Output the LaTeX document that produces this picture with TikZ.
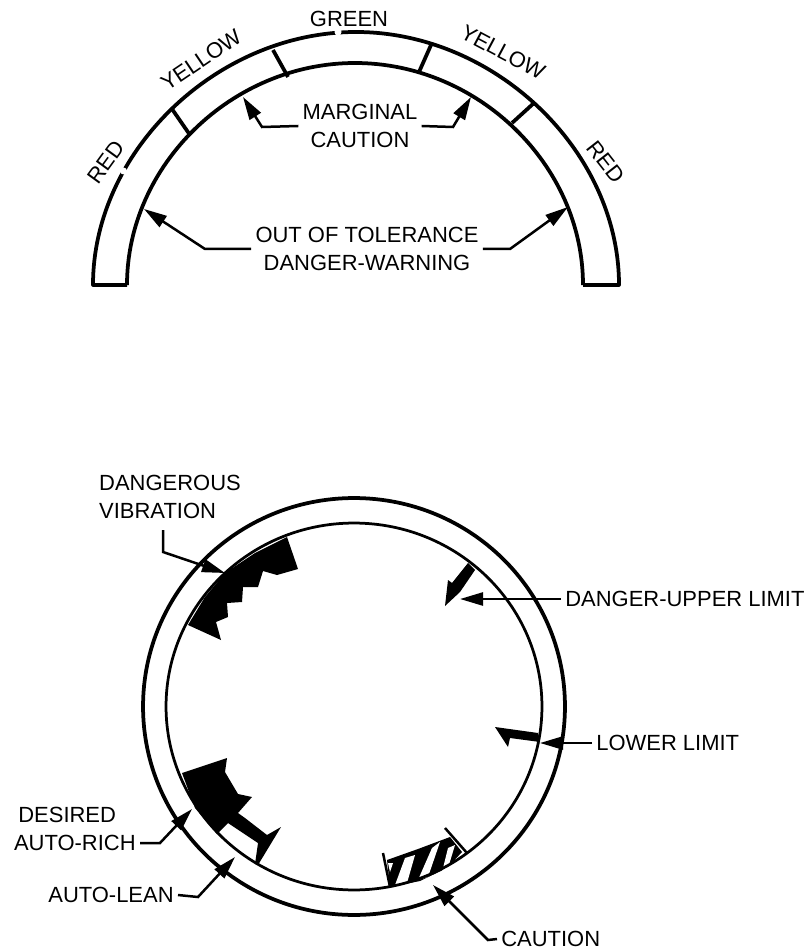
\documentclass[tikz,border=0pt]{standalone}
\usepackage{fontspec}
\setmainfont{Liberation Sans}
\usepackage{xcolor}
\usetikzlibrary{arrows.meta, positioning}

\begin{document}
\begin{tikzpicture}[x=0.02cm, y=-0.02cm, >={Triangle[length=0.46cm, width=0.26cm]},
  ring/.style={line width=0.075cm},
  lead/.style={line width=0.05cm},
  lbl/.style={font=\fontsize{12.5}{15.7}\selectfont, inner sep=0.08cm, align=center}]
  \useasboundingbox (0,0) rectangle (811,949);
  % Upper arc
  \draw[ring, line join=round] (127,285) -- (93,285) .. controls (93,151) and (217,32) .. (356,32)
    .. controls (495,32) and (619,151) .. (619,285) -- (583,285);
  \draw[ring] (127,285) .. controls (127,165) and (232,63) .. (355,63) .. controls (478,63) and (583,165) .. (583,285);
  \fill[white] (123.5,171) circle[radius=0.07cm];
  \fill[white] (338,32) circle[radius=0.07cm];
  \draw[ring] (172,109) -- (190,135);
  \draw[ring] (273,50) -- (288,77);
  \draw[ring] (431,45) -- (419,72);
  \draw[ring] (534,103) -- (512,123);
  \node[lbl, rotate=54] (red1) at (106,162) {RED};
  \node[lbl, rotate=34] (yel1) at (201,60) {YELLOW};
  \node[lbl] (green) at (349,19) {GREEN};
  \node[lbl, rotate=-28] (yel2) at (503,52) {YELLOW};
  \node[lbl, rotate=-52] (red2) at (606,162) {RED};
  \node[lbl] (marg) at (360,126) {MARGINAL\\CAUTION};
  \node[lbl] (out) at (367,249) {OUT OF TOLERANCE\\DANGER-WARNING};
  \coordinate (m1) at (262,127);
  \coordinate (m2) at (243,97);
  \coordinate (m3) at (453,127);
  \coordinate (m4) at (471,97);
  \coordinate (o1) at (205,249);
  \coordinate (o2) at (144,209);
  \coordinate (o3) at (510,249);
  \coordinate (o4) at (568,207);
  \draw[lead, ->] (marg.west) -- (m1) -- (m2);
  \draw[lead, ->] (marg.east) -- (m3) -- (m4);
  \draw[lead, ->] (out.west) -- (o1) -- (o2);
  \draw[lead, ->] (out.east) -- (o3) -- (o4);
  % Dangerous vibration
  \fill (188,625) -- (205,597) -- (225,573) -- (255,553) -- (287,537) -- (298,569) -- (277,575) -- (263,571)
    -- (258,587) -- (243,587) -- (242,602) -- (227,603) -- (228,617) -- (216,622) -- (221,640) -- cycle;
  % Desired auto-rich
  \fill (182,773) -- (227,758) -- (225,772) -- (238,794) -- (252,797) -- (238,813) -- (245,818) -- (267,835)
    -- (281,827) -- (258,865) -- (255,864) -- (258,843) -- (228,823) -- (217,834) -- (195,808) -- cycle;
  % Caution
  \fill (387,860) -- (418,849) -- (450,837) -- (462,852) -- (447,868) -- (420,881) -- (390,887) -- cycle;
  \fill[white] (388,863) -- (393,863) -- (390,872) -- cycle;
  \fill[white] (415,855) -- (405,858) -- (395,885) -- (407,883) -- cycle;
  \fill[white] (440,842) -- (432,848) -- (418,880) -- (428,877) -- cycle;
  \fill[white] (455,845) -- (448,848) -- (442,872) -- (448,868) -- cycle;
  \draw[lead] (383,853) -- (390,887);
  \draw[lead] (445,828) -- (467,853);
  % Limits
  \fill (468,563) -- (475,570) -- (460,592) -- (445,606) -- (448,580) -- (452,583) -- cycle;
  \fill (538,733) -- (495,727) -- (508,747) -- (510,738) -- (540,742) -- cycle;
  % Lower dial
  \draw[ring] (354,706.5) ellipse[x radius=4.22cm, y radius=4.17cm];
  \draw[line width=0.055cm] (354,706.5) ellipse[x radius=3.76cm, y radius=3.67cm];
  \node[lbl, align=left] (dang) at (170,497) {DANGEROUS\\VIBRATION};
  \node[lbl, anchor=west] (upper) at (561,599) {DANGER-UPPER LIMIT};
  \node[lbl, anchor=west] (lower) at (592,743) {LOWER LIMIT};
  \node[lbl, anchor=west] (des) at (14,815) {DESIRED};
  \node[lbl, anchor=east] (rich) at (140,843) {AUTO-RICH};
  \node[lbl, anchor=east] (lean) at (178,895) {AUTO-LEAN};
  \node[lbl, anchor=west, inner ysep=0pt] (caut) at (497,939) {CAUTION};
  \coordinate (v1) at (163,530);
  \coordinate (v2) at (163,552);
  \coordinate (v3) at (225,573);
  \coordinate (r1) at (160,843);
  \coordinate (r2) at (192,809);
  \coordinate (l1) at (198,897);
  \coordinate (l2) at (235,857);
  \coordinate (c1) at (488,940);
  \coordinate (c2) at (433,885);
  \coordinate (u1) at (460,599);
  \coordinate (w1) at (540,743);
  \draw[lead, ->] (v1) -- (v2) -- (v3);
  \draw[lead, ->] (rich.east) -- (r1) -- (r2);
  \draw[lead, ->] (lean.east) -- (l1) -- (l2);
  \draw[lead, ->] (caut.west) -- (c1) -- (c2);
  \draw[lead, ->] (upper.west) -- (u1);
  \draw[lead, ->] (lower.west) -- (w1);
\end{tikzpicture}
\end{document}
